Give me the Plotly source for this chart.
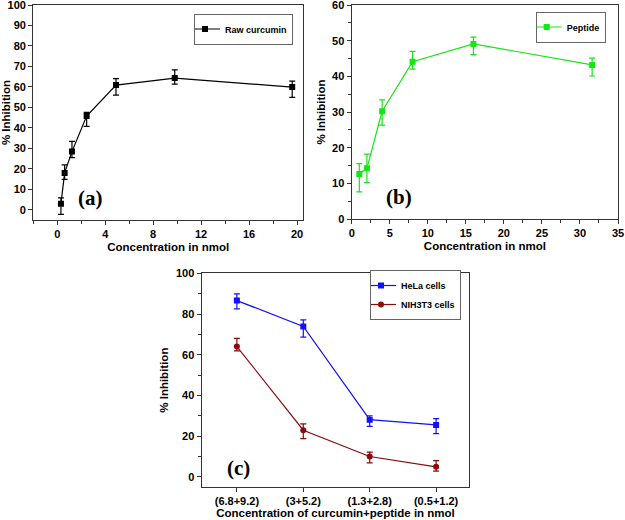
import plotly.graph_objects as go

# Panel (a): raw curcumin
conc_a = [0.306, 0.6125, 1.225, 2.45, 4.9, 9.8, 19.6]
inh_a = [2.9, 18.0, 28.4, 45.8, 60.9, 64.3, 59.9]
err_a_up = [2.9, 3.9, 5.0, 1.8, 3.1, 4.0, 2.9]
err_a_dn = [5.2, 3.2, 2.9, 5.1, 4.9, 2.9, 5.0]

# Panel (b): peptide
conc_b = [1, 2, 4, 8, 16, 31.6]
inh_b = [12.6, 14.2, 30.2, 44.1, 49.1, 43.2]
err_b_up = [2.9, 4.0, 3.2, 2.9, 1.9, 1.9]
err_b_dn = [5.0, 4.0, 3.9, 2.1, 3.0, 3.1]

# Panel (c): combinations
combo_labels = ["(6.8+9.2)", "(3+5.2)", "(1.3+2.8)", "(0.5+1.2)"]
hela = [86.6, 73.9, 28.1, 25.5]
hela_up = [3.3, 3.2, 1.9, 3.1]
hela_dn = [4.1, 5.3, 3.3, 4.3]
nih = [64.0, 22.9, 10.0, 4.9]
nih_up = [4.0, 3.1, 2.1, 3.1]
nih_dn = [2.1, 4.1, 3.1, 2.1]

FAM = "Liberation Sans, Arial, sans-serif"
BOLD = dict(family=FAM, size=11, color="black", weight="bold")
TBOLD = dict(family=FAM, size=11.5, color="black", weight="bold")
LEGF = dict(family=FAM, size=9, color="black", weight="bold")
GREEN = "#14e614"
BLUE = "#1010ff"
DRED = "#8b0a0a"

fig = go.Figure()

def err(up, dn, color):
    return dict(type="data", symmetric=False, array=up, arrayminus=dn,
                color=color, thickness=1.2, width=3, visible=True)

fig.add_trace(go.Scatter(x=conc_a, y=inh_a, mode="lines+markers", name="Raw curcumin",
                         line=dict(color="black", width=1.2),
                         marker=dict(symbol="square", size=6, color="black"),
                         error_y=err(err_a_up, err_a_dn, "black"),
                         xaxis="x", yaxis="y", legend="legend"))
fig.add_trace(go.Scatter(x=conc_b, y=inh_b, mode="lines+markers", name="Peptide",
                         line=dict(color=GREEN, width=1.2),
                         marker=dict(symbol="square", size=6, color=GREEN),
                         error_y=err(err_b_up, err_b_dn, GREEN),
                         xaxis="x2", yaxis="y2", legend="legend2"))
xc = list(range(len(combo_labels)))
fig.add_trace(go.Scatter(x=xc, y=hela, mode="lines+markers", name="HeLa cells",
                         line=dict(color=BLUE, width=1.2),
                         marker=dict(symbol="square", size=6, color=BLUE),
                         error_y=err(hela_up, hela_dn, BLUE),
                         xaxis="x3", yaxis="y3", legend="legend3"))
fig.add_trace(go.Scatter(x=xc, y=nih, mode="lines+markers", name="NIH3T3 cells",
                         line=dict(color=DRED, width=1.2),
                         marker=dict(symbol="circle", size=6, color=DRED),
                         error_y=err(nih_up, nih_dn, DRED),
                         xaxis="x3", yaxis="y3", legend="legend3"))

def ax(**kw):
    d = dict(showline=True, linecolor="#333", linewidth=1.3, mirror=True,
             ticks="outside", ticklen=4, tickwidth=1, tickcolor="#333",
             showgrid=False, zeroline=False, tickfont=BOLD, automargin=False,
             ticklabeloverflow="allow")
    d.update(kw)
    return d

W, H = 625, 520
def dx(a, b): return [a / W, b / W]
def dy(top, bot): return [(H - bot) / H, (H - top) / H]

def leg(xp, yp):
    return dict(x=xp / W, y=(H - yp) / H, xanchor="left", yanchor="middle",
                bordercolor="#666", borderwidth=1, bgcolor="white", font=LEGF,
                tracegroupgap=0, itemwidth=30, indentation=-10)

fig.update_layout(
    template="none",
    width=W, height=H, margin=dict(l=0, r=0, t=0, b=0),
    plot_bgcolor="white", paper_bgcolor="white",
    xaxis=ax(domain=dx(33.3, 303), range=[-2, 20.5], tickvals=[0, 4, 8, 12, 16, 20],
             minor=dict(ticks="outside", ticklen=2.5, dtick=2, tick0=0, tickcolor="#333"),
             title=dict(text="Concentration in nmol", standoff=3, font=TBOLD), anchor="y"),
    yaxis=ax(domain=dy(5, 220), range=[-5, 100], dtick=10, tick0=0,
             title=dict(text="% Inhibition", standoff=4, font=TBOLD), anchor="x"),
    xaxis2=ax(domain=dx(351.7, 618), range=[0, 35], dtick=5,
              minor=dict(ticks="outside", ticklen=2.5, dtick=2.5, tickcolor="#333"),
              title=dict(text="Concentration in nmol", standoff=3, font=TBOLD), anchor="y2"),
    yaxis2=ax(domain=dy(5, 219), range=[0, 60], dtick=10,
              minor=dict(ticks="outside", ticklen=2.5, dtick=5, tickcolor="#333"),
              title=dict(text="% Inhibition", standoff=4, font=TBOLD), anchor="x2"),
    xaxis3=ax(domain=dx(201.7, 469.3), range=[-0.53, 3.5], tickvals=xc, ticktext=combo_labels,
              title=dict(text="Concentration of curcumin+peptide in nmol", standoff=1, font=TBOLD),
              anchor="y3"),
    yaxis3=ax(domain=dy(273.3, 487), range=[-5, 100], dtick=20, tick0=0,
              minor=dict(ticks="outside", ticklen=2.5, dtick=10, tick0=0, tickcolor="#333"),
              title=dict(text="% Inhibition", standoff=4, font=TBOLD), anchor="x3"),
    legend=leg(194, 29),
    legend2=leg(535.7, 27),
    legend3=leg(370, 295),
    showlegend=True,
)

for txt, xp, yp in [("(a)", 90, 198), ("(b)", 399, 197), ("(c)", 238, 468)]:
    fig.add_annotation(text=txt, x=xp / W, y=(H - yp) / H, xref="paper", yref="paper",
                       showarrow=False, xanchor="center", yanchor="middle",
                       font=dict(family="Liberation Serif, Times New Roman, serif", size=21,
                                 color="black", weight="bold"))

fig.write_html("out.html", config={"displayModeBar": False},
               post_script="document.body.style.margin='0';document.body.style.overflow='hidden';")
